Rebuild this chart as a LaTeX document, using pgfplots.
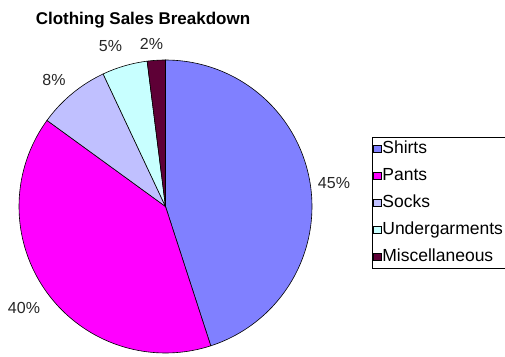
\documentclass[border=0pt]{standalone}
\usepackage{pgfplots}
\pgfplotsset{compat=1.18}
\usepgfplotslibrary{polar}
\usepackage{fontspec}
\setmainfont{Liberation Sans}
\definecolor{cShirts}{HTML}{8080FF}
\definecolor{cPants}{HTML}{FF00FF}
\definecolor{cSocks}{HTML}{C0C0FF}
\definecolor{cUnder}{HTML}{C8FFFF}
\definecolor{cMisc}{HTML}{5E0036}
\begin{document}
\begin{tikzpicture}
\useasboundingbox (0pt,0pt) rectangle (505pt,356pt);
% Shares (percent): Shirts 45, Pants 40, Socks 8, Undergarments 5, Misc 2
% slices run clockwise from 90 degrees: 1 percent = 3.6 degrees
\begin{polaraxis}[
  hide axis, clip=false,
  width=293pt, height=293pt, scale only axis,
  ymin=0, ymax=1,
  at={(165.5pt,149.5pt)}, anchor=origin,
  legend cell align=left,
  legend style={
    at={(axis description cs:1.205,0.737)}, anchor=north west,
    draw=black, line width=0.6pt,
    font=\fontsize{17.5}{20}\selectfont,
    inner xsep=1pt, inner ysep=2pt,
    row sep=8pt,
    nodes={inner sep=1pt, text height=13pt, text depth=4pt},
  },
  legend image code/.code={\draw[#1, draw=black, line width=0.6pt] (0pt,-3.7pt) rectangle (7.4pt,3.7pt);},
]
\addplot[draw=black, line width=0.6pt, fill=cShirts, domain=-72:90, samples=91] {1} -- (axis cs:0,0) -- cycle;
\addlegendentry{Shirts}
\addplot[draw=black, line width=0.6pt, fill=cPants, domain=-216:-72, samples=81] {1} -- (axis cs:0,0) -- cycle;
\addlegendentry{Pants}
\addplot[draw=black, line width=0.6pt, fill=cSocks, domain=-244.8:-216, samples=21] {1} -- (axis cs:0,0) -- cycle;
\addlegendentry{Socks}
\addplot[draw=black, line width=0.6pt, fill=cUnder, domain=-262.8:-244.8, samples=15] {1} -- (axis cs:0,0) -- cycle;
\addlegendentry{Undergarments}
\addplot[draw=black, line width=0.6pt, fill=cMisc, domain=-270:-262.8, samples=8] {1} -- (axis cs:0,0) -- cycle;
\addlegendentry{Miscellaneous}
\end{polaraxis}
\node[anchor=base, font=\fontsize{17}{20}\selectfont\bfseries, inner sep=0pt] at (143pt,331pt) {Clothing Sales Breakdown};
\begin{scope}[every node/.style={font=\fontsize{16}{18}\selectfont, inner sep=0pt, text=black!85}]
\node at (334pt,173pt) {45\%};
\node at (24pt,48.5pt) {40\%};
\node at (54pt,276pt) {8\%};
\node at (110.5pt,309.5pt) {5\%};
\node at (151.5pt,312.5pt) {2\%};
\end{scope}
\end{tikzpicture}
\end{document}
